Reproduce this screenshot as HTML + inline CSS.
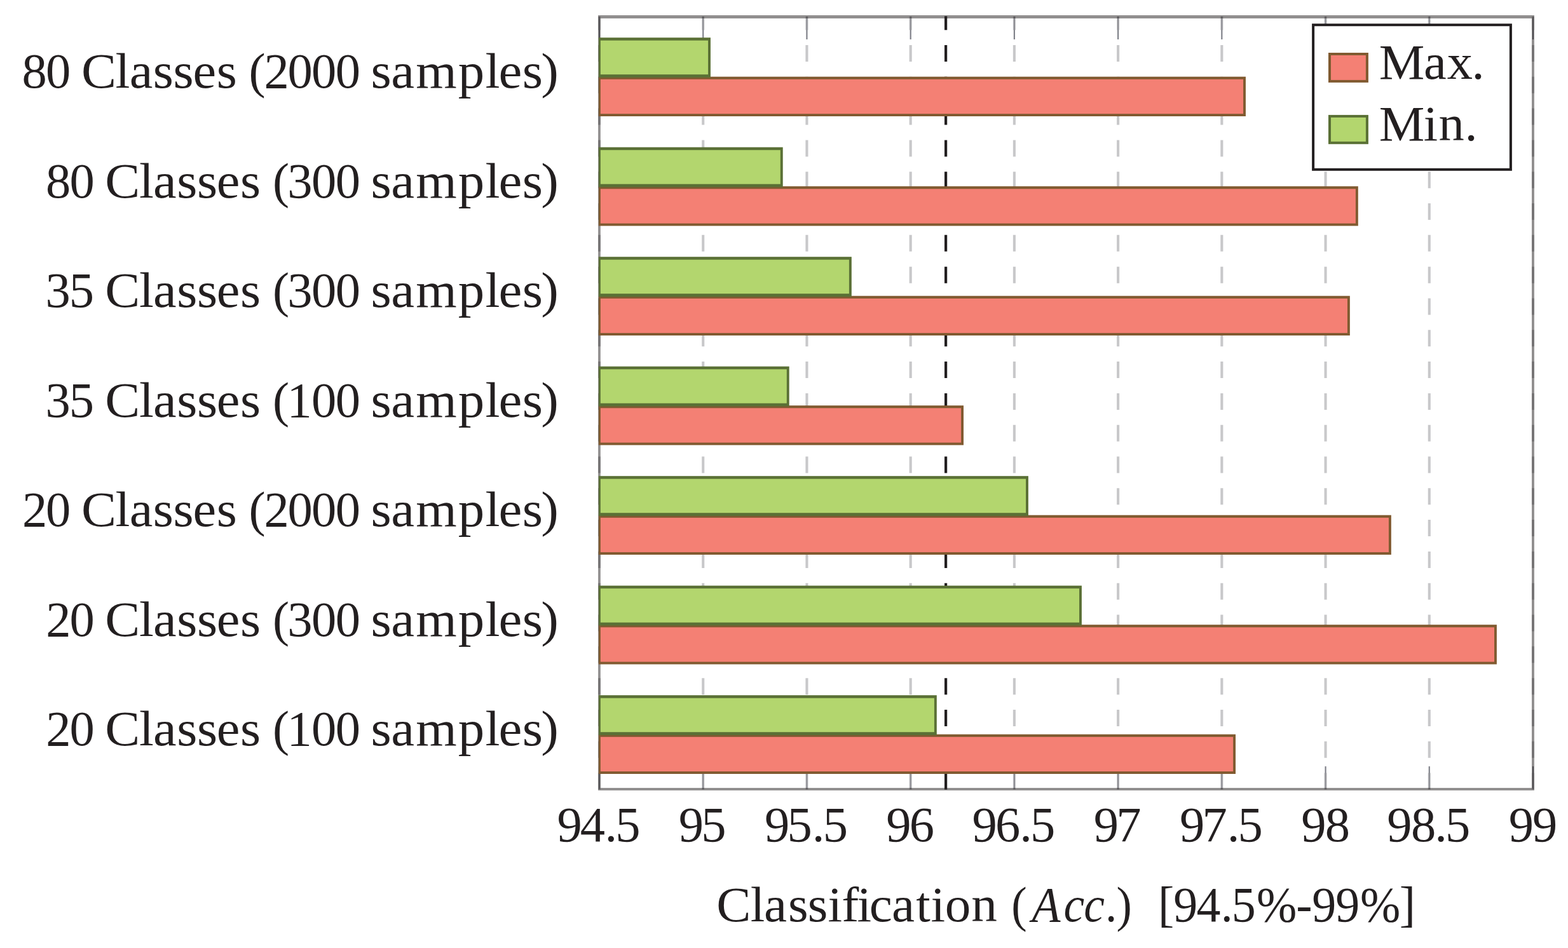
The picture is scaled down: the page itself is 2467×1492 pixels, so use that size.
<!DOCTYPE html>
<html lang="en"><head><meta charset="utf-8"><title>Classification accuracy chart</title>
<style>
html,body{margin:0;padding:0;background:#fff;}
body{width:2467px;height:1492px;overflow:hidden;}
svg{display:block;}
text{font-family:"Liberation Serif","DejaVu Serif",serif;fill:#231f20;font-kerning:none;font-variant-ligatures:none;}
</style></head><body>
<svg width="2467" height="1492" viewBox="0 0 2467 1492" role="img" aria-label="Horizontal bar chart of minimum and maximum classification accuracy">
<rect x="0" y="0" width="2467" height="1492" fill="#ffffff"/>
<g stroke="#80828a" stroke-width="2.2" fill="none">
<line x1="943.00" y1="26.00" x2="943.00" y2="62.00"/>
<line x1="943.00" y1="1242.00" x2="943.00" y2="1206.10"/>
<line x1="1106.22" y1="26.00" x2="1106.22" y2="62.00"/>
<line x1="1106.22" y1="1242.00" x2="1106.22" y2="1206.10"/>
<line x1="1269.44" y1="26.00" x2="1269.44" y2="62.00"/>
<line x1="1269.44" y1="1242.00" x2="1269.44" y2="1206.10"/>
<line x1="1432.67" y1="26.00" x2="1432.67" y2="62.00"/>
<line x1="1432.67" y1="1242.00" x2="1432.67" y2="1206.10"/>
<line x1="1595.89" y1="26.00" x2="1595.89" y2="62.00"/>
<line x1="1595.89" y1="1242.00" x2="1595.89" y2="1206.10"/>
<line x1="1759.11" y1="26.00" x2="1759.11" y2="62.00"/>
<line x1="1759.11" y1="1242.00" x2="1759.11" y2="1206.10"/>
<line x1="1922.33" y1="26.00" x2="1922.33" y2="62.00"/>
<line x1="1922.33" y1="1242.00" x2="1922.33" y2="1206.10"/>
<line x1="2085.56" y1="26.00" x2="2085.56" y2="62.00"/>
<line x1="2085.56" y1="1242.00" x2="2085.56" y2="1206.10"/>
<line x1="2248.78" y1="26.00" x2="2248.78" y2="62.00"/>
<line x1="2248.78" y1="1242.00" x2="2248.78" y2="1206.10"/>
<line x1="2412.00" y1="26.00" x2="2412.00" y2="62.00"/>
<line x1="2412.00" y1="1242.00" x2="2412.00" y2="1206.10"/>
</g>
<g stroke="#9a9b9e" stroke-opacity="0.55" stroke-width="4.1" stroke-dasharray="26 23.81" fill="none">
<line x1="943.00" y1="1242.60" x2="943.00" y2="26.00"/>
<line x1="1106.22" y1="1242.60" x2="1106.22" y2="26.00"/>
<line x1="1269.44" y1="1242.60" x2="1269.44" y2="26.00"/>
<line x1="1432.67" y1="1242.60" x2="1432.67" y2="26.00"/>
<line x1="1595.89" y1="1242.60" x2="1595.89" y2="26.00"/>
<line x1="1759.11" y1="1242.60" x2="1759.11" y2="26.00"/>
<line x1="1922.33" y1="1242.60" x2="1922.33" y2="26.00"/>
<line x1="2085.56" y1="1242.60" x2="2085.56" y2="26.00"/>
<line x1="2248.78" y1="1242.60" x2="2248.78" y2="26.00"/>
<line x1="2412.00" y1="1242.60" x2="2412.00" y2="26.00"/>
</g>
<path d="M941.1 24.1H2413.9V1243.9H941.1Z M944.8 29H2410V1240H944.8Z" fill="#231f20" fill-opacity="0.5" fill-rule="evenodd"/>
<line x1="1488.1" y1="1242.6" x2="1488.1" y2="25.5" stroke="#231f20" stroke-width="4.2" stroke-dasharray="26 23.81"/>
<g id="series-max">
<rect x="941.90" y="120.70" width="1018.03" height="62.30" fill="#805a30"/>
<rect x="944.85" y="124.80" width="1011.18" height="54.30" fill="#f48074"/>
<rect x="941.90" y="293.20" width="1194.90" height="62.30" fill="#805a30"/>
<rect x="944.85" y="297.30" width="1188.05" height="54.30" fill="#f48074"/>
<rect x="941.90" y="465.70" width="1181.95" height="62.30" fill="#805a30"/>
<rect x="944.85" y="469.80" width="1175.10" height="54.30" fill="#f48074"/>
<rect x="941.90" y="638.20" width="574.10" height="62.30" fill="#805a30"/>
<rect x="944.85" y="642.30" width="567.25" height="54.30" fill="#f48074"/>
<rect x="941.90" y="810.70" width="1246.95" height="62.30" fill="#805a30"/>
<rect x="944.85" y="814.80" width="1240.10" height="54.30" fill="#f48074"/>
<rect x="941.90" y="983.20" width="1413.00" height="62.30" fill="#805a30"/>
<rect x="944.85" y="987.30" width="1406.15" height="54.30" fill="#f48074"/>
<rect x="941.90" y="1155.70" width="1002.10" height="62.30" fill="#805a30"/>
<rect x="944.85" y="1159.80" width="995.25" height="54.30" fill="#f48074"/>
</g>
<g id="series-min">
<rect x="941.90" y="59.20" width="176.05" height="62.80" fill="#5a7035"/>
<rect x="944.85" y="63.70" width="169.20" height="53.50" fill="#b3d66e"/>
<rect x="941.90" y="231.70" width="289.80" height="62.80" fill="#5a7035"/>
<rect x="944.85" y="236.20" width="282.95" height="53.50" fill="#b3d66e"/>
<rect x="941.90" y="404.20" width="397.90" height="62.80" fill="#5a7035"/>
<rect x="944.85" y="408.70" width="391.05" height="53.50" fill="#b3d66e"/>
<rect x="941.90" y="576.70" width="299.80" height="62.80" fill="#5a7035"/>
<rect x="944.85" y="581.20" width="292.95" height="53.50" fill="#b3d66e"/>
<rect x="941.90" y="749.20" width="676.00" height="62.80" fill="#5a7035"/>
<rect x="944.85" y="753.70" width="669.15" height="53.50" fill="#b3d66e"/>
<rect x="941.90" y="921.70" width="760.00" height="62.80" fill="#5a7035"/>
<rect x="944.85" y="926.20" width="753.15" height="53.50" fill="#b3d66e"/>
<rect x="941.90" y="1094.20" width="531.90" height="62.80" fill="#5a7035"/>
<rect x="944.85" y="1098.70" width="525.05" height="53.50" fill="#b3d66e"/>
</g>
<rect x="2066.1" y="39.2" width="310.8" height="227.6" fill="#ffffff" stroke="#231f20" stroke-width="4"/>
<rect x="2092" y="85" width="58.9" height="42.9" fill="#f48074" stroke="#805a30" stroke-width="4"/>
<rect x="2092" y="182.9" width="58.9" height="41.9" fill="#b3d66e" stroke="#5a7035" stroke-width="4"/>
<text y="138" font-size="78"><tspan x="34.56" dx="0 -1.83" textLength="76.73" lengthAdjust="spacingAndGlyphs" font-size="78.5">80</tspan> <tspan x="127.94" dx="0 -1.29 -0.77 0.42 -0.28 -1.18 0.65" textLength="244.85" lengthAdjust="spacingAndGlyphs">Classes</tspan> <tspan x="391.49" dx="0 -2.23 -2.15 -1.78 -1.68" textLength="175.45" lengthAdjust="spacingAndGlyphs" font-size="78.5">(2000</tspan> <tspan x="583.61" dx="0 -0.54 2.01 1.87 1.35 -2.02 0.44 -2.59" textLength="295.16" lengthAdjust="spacingAndGlyphs">samples)</tspan></text>
<text y="310.5" font-size="78"><tspan x="71.99" dx="0 -1.83" textLength="76.73" lengthAdjust="spacingAndGlyphs" font-size="78.5">80</tspan> <tspan x="165.37" dx="0 -1.29 -0.77 0.42 -0.28 -1.18 0.65" textLength="244.85" lengthAdjust="spacingAndGlyphs">Classes</tspan> <tspan x="428.92" dx="0 -2.91 -1.4 -1.68" textLength="138.02" lengthAdjust="spacingAndGlyphs" font-size="78.5">(300</tspan> <tspan x="583.61" dx="0 -0.54 2.01 1.87 1.35 -2.02 0.44 -2.59" textLength="295.16" lengthAdjust="spacingAndGlyphs">samples)</tspan></text>
<text y="483" font-size="78"><tspan x="71.61" dx="0 -2.2" textLength="76.35" lengthAdjust="spacingAndGlyphs" font-size="78.5">35</tspan> <tspan x="165.37" dx="0 -1.29 -0.77 0.42 -0.28 -1.18 0.65" textLength="244.85" lengthAdjust="spacingAndGlyphs">Classes</tspan> <tspan x="428.92" dx="0 -2.91 -1.4 -1.68" textLength="138.02" lengthAdjust="spacingAndGlyphs" font-size="78.5">(300</tspan> <tspan x="583.61" dx="0 -0.54 2.01 1.87 1.35 -2.02 0.44 -2.59" textLength="295.16" lengthAdjust="spacingAndGlyphs">samples)</tspan></text>
<text y="655.5" font-size="78"><tspan x="71.61" dx="0 -2.2" textLength="76.35" lengthAdjust="spacingAndGlyphs" font-size="78.5">35</tspan> <tspan x="165.37" dx="0 -1.29 -0.77 0.42 -0.28 -1.18 0.65" textLength="244.85" lengthAdjust="spacingAndGlyphs">Classes</tspan> <tspan x="428.92" dx="0 -3.66 -0.65 -1.68" textLength="138.02" lengthAdjust="spacingAndGlyphs" font-size="78.5">(100</tspan> <tspan x="583.61" dx="0 -0.54 2.01 1.87 1.35 -2.02 0.44 -2.59" textLength="295.16" lengthAdjust="spacingAndGlyphs">samples)</tspan></text>
<text y="828" font-size="78"><tspan x="34.94" dx="0 -2.2" textLength="76.35" lengthAdjust="spacingAndGlyphs" font-size="78.5">20</tspan> <tspan x="127.94" dx="0 -1.29 -0.77 0.42 -0.28 -1.18 0.65" textLength="244.85" lengthAdjust="spacingAndGlyphs">Classes</tspan> <tspan x="391.49" dx="0 -2.23 -2.15 -1.78 -1.68" textLength="175.45" lengthAdjust="spacingAndGlyphs" font-size="78.5">(2000</tspan> <tspan x="583.61" dx="0 -0.54 2.01 1.87 1.35 -2.02 0.44 -2.59" textLength="295.16" lengthAdjust="spacingAndGlyphs">samples)</tspan></text>
<text y="1000.5" font-size="78"><tspan x="72.37" dx="0 -2.2" textLength="76.35" lengthAdjust="spacingAndGlyphs" font-size="78.5">20</tspan> <tspan x="165.37" dx="0 -1.29 -0.77 0.42 -0.28 -1.18 0.65" textLength="244.85" lengthAdjust="spacingAndGlyphs">Classes</tspan> <tspan x="428.92" dx="0 -2.91 -1.4 -1.68" textLength="138.02" lengthAdjust="spacingAndGlyphs" font-size="78.5">(300</tspan> <tspan x="583.61" dx="0 -0.54 2.01 1.87 1.35 -2.02 0.44 -2.59" textLength="295.16" lengthAdjust="spacingAndGlyphs">samples)</tspan></text>
<text y="1173" font-size="78"><tspan x="72.37" dx="0 -2.2" textLength="76.35" lengthAdjust="spacingAndGlyphs" font-size="78.5">20</tspan> <tspan x="165.37" dx="0 -1.29 -0.77 0.42 -0.28 -1.18 0.65" textLength="244.85" lengthAdjust="spacingAndGlyphs">Classes</tspan> <tspan x="428.92" dx="0 -3.66 -0.65 -1.68" textLength="138.02" lengthAdjust="spacingAndGlyphs" font-size="78.5">(100</tspan> <tspan x="583.61" dx="0 -0.54 2.01 1.87 1.35 -2.02 0.44 -2.59" textLength="295.16" lengthAdjust="spacingAndGlyphs">samples)</tspan></text>
<text y="1323.7" font-size="78.5"><tspan x="876.56" dx="0 -2.96 -0.73 -2.88" textLength="130.91" lengthAdjust="spacingAndGlyphs">94.5</tspan></text>
<text y="1323.7" font-size="78.5"><tspan x="1067.85" dx="0 -3.78" textLength="74.77" lengthAdjust="spacingAndGlyphs">95</tspan></text>
<text y="1323.7" font-size="78.5"><tspan x="1203" dx="0 -3.78 0.1 -2.88" textLength="130.91" lengthAdjust="spacingAndGlyphs">95.5</tspan></text>
<text y="1323.7" font-size="78.5"><tspan x="1394.29" dx="0 -2.73" textLength="75.82" lengthAdjust="spacingAndGlyphs">96</tspan></text>
<text y="1323.7" font-size="78.5"><tspan x="1529.44" dx="0 -2.73 -0.95 -2.88" textLength="130.91" lengthAdjust="spacingAndGlyphs">96.5</tspan></text>
<text y="1323.7" font-size="78.5"><tspan x="1720.74" dx="0 -3.73" textLength="74.82" lengthAdjust="spacingAndGlyphs">97</tspan></text>
<text y="1323.7" font-size="78.5"><tspan x="1855.89" dx="0 -3.73 0.05 -2.88" textLength="130.91" lengthAdjust="spacingAndGlyphs">97.5</tspan></text>
<text y="1323.7" font-size="78.5"><tspan x="2047.18" dx="0 -1.73" textLength="76.82" lengthAdjust="spacingAndGlyphs">98</tspan></text>
<text y="1323.7" font-size="78.5"><tspan x="2182.33" dx="0 -1.73 -1.95 -2.88" textLength="130.91" lengthAdjust="spacingAndGlyphs">98.5</tspan></text>
<text y="1323.7" font-size="78.5"><tspan x="2373.63" dx="0 -1.86" textLength="76.7" lengthAdjust="spacingAndGlyphs">99</tspan></text>
<text y="1450" font-size="78" xml:space="preserve"><tspan x="1127.31" dx="0 -0.68 -1.33 1.85 -0.72 0.24 -0.95 -2.56 -3.13 -0.78 2.09 0.67 -0.34 0.86" textLength="441.53" lengthAdjust="spacingAndGlyphs">Classification</tspan> <tspan x="1591.31" textLength="24.43" lengthAdjust="spacingAndGlyphs">(</tspan><tspan x="1623.41" dx="0 5.32 -0.76 3.02" textLength="135.86" lengthAdjust="spacingAndGlyphs" font-style="italic">Acc.</tspan><tspan x="1756.46" textLength="24.3" lengthAdjust="spacingAndGlyphs">)</tspan>  <tspan x="1821.94" dx="0 -1.07 -1.64 0.31 -2 1.3 -1.23 -0.14 -0.94 0.64 -1.55" textLength="405.01" lengthAdjust="spacingAndGlyphs">[94.5%-99%]</tspan></text>
<text y="123.9" font-size="79"><tspan x="2169.67" dx="0 -1.29 1.02 -1.56" textLength="166" lengthAdjust="spacingAndGlyphs">Max.</tspan></text>
<text y="220.9" font-size="79"><tspan x="2169.67" dx="0 -1.64 1.43 0.62" textLength="154.9" lengthAdjust="spacingAndGlyphs">Min.</tspan></text>
</svg>
</body></html>
